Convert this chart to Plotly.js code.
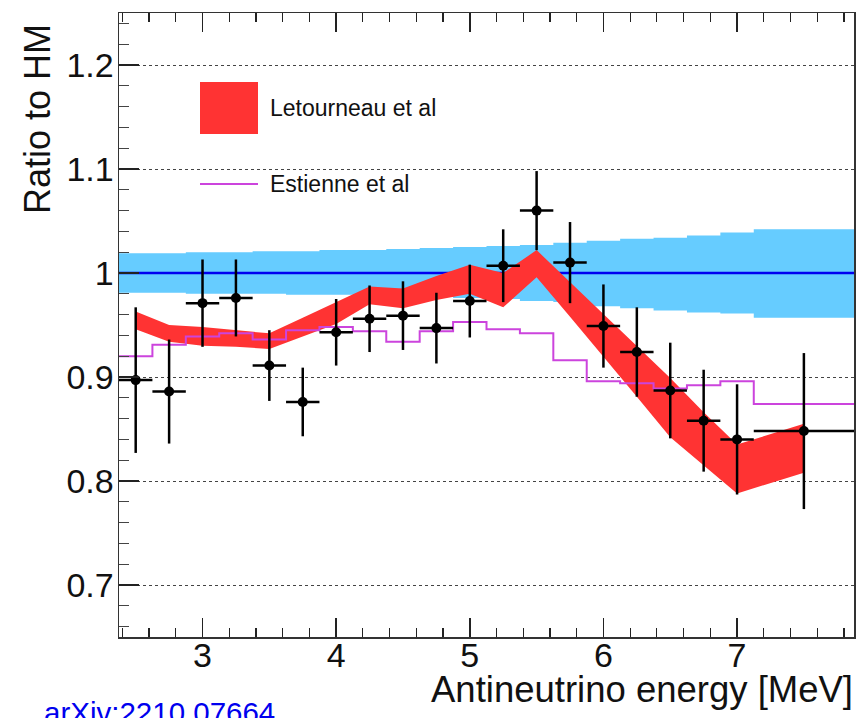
<!DOCTYPE html>
<html>
<head>
<meta charset="utf-8">
<script src="https://cdn.plot.ly/plotly-3.0.1.min.js"></script>
<style>html,body{margin:0;padding:0;background:#fff;}#chart{width:858px;height:718px;}</style>
</head>
<body>
<div id="chart"></div>
<script>
// ---- data ----
const energy = [2.5,2.75,3.0,3.25,3.5,3.75,4.0,4.25,4.5,4.75,5.0,5.25,5.5,5.75,6.0,6.25,6.5,6.75,7.0,7.5];
const energyHalfWidth = [0.125,0.125,0.125,0.125,0.125,0.125,0.125,0.125,0.125,0.125,0.125,0.125,0.125,0.125,0.125,0.125,0.125,0.125,0.125,0.375];
const dataRatio = [0.897,0.886,0.971,0.976,0.911,0.876,0.943,0.956,0.959,0.947,0.973,1.007,1.060,1.010,0.949,0.924,0.887,0.858,0.840,0.848];
const dataErr = [0.070,0.050,0.042,0.037,0.034,0.033,0.032,0.032,0.033,0.034,0.035,0.035,0.038,0.039,0.040,0.043,0.046,0.049,0.053,0.075];

const binEdges = [2.375,2.625,2.875,3.125,3.375,3.625,3.875,4.125,4.375,4.625,4.875,5.125,5.375,5.625,5.875,6.125,6.375,6.625,6.875,7.125,7.875];
const hmRatio = 1.0;
const hmUpper = [1.019,1.019,1.020,1.020,1.021,1.021,1.022,1.022,1.023,1.024,1.025,1.026,1.027,1.029,1.031,1.033,1.034,1.036,1.039,1.042];
const hmLower = [0.981,0.981,0.980,0.980,0.980,0.979,0.979,0.978,0.978,0.977,0.976,0.975,0.973,0.972,0.968,0.966,0.964,0.962,0.961,0.957];

const estienne = [0.920,0.931,0.939,0.942,0.936,0.945,0.948,0.944,0.934,0.944,0.953,0.946,0.942,0.916,0.896,0.894,0.889,0.892,0.896,0.874];

const letUpper = [0.963,0.950,0.948,0.945,0.942,0.957,0.972,0.987,0.985,0.997,1.008,1.000,1.022,0.991,0.961,0.930,0.899,0.866,0.835,0.855];
const letLower = [0.946,0.934,0.930,0.929,0.927,0.939,0.951,0.970,0.966,0.974,0.980,0.967,0.996,0.958,0.920,0.881,0.842,0.815,0.788,0.808];

const legendLabels = ["Letourneau et al","Estienne et al"];
const xTitle = "Antineutrino energy [MeV]";
const yTitle = "Ratio to HM";
const refText = "arXiv:2210.07664";

// ---- helpers ----
const stepY = arr => arr.concat([arr[arr.length-1]]);

const RED = '#ff3333', BAND = '#66ccff', MAG = '#cc44dd';

const traces = [
  {x: binEdges, y: stepY(hmLower), mode:'lines', line:{shape:'hv', width:0, color:BAND}, hoverinfo:'skip', showlegend:false},
  {x: binEdges, y: stepY(hmUpper), mode:'lines', line:{shape:'hv', width:0, color:BAND}, fill:'tonexty', fillcolor:BAND, hoverinfo:'skip', showlegend:false},
  {x: [binEdges[0], binEdges[binEdges.length-1]], y:[hmRatio, hmRatio], mode:'lines', line:{color:'#0000f0', width:2.5}, showlegend:false},
  {x: energy, y: letLower, mode:'lines', line:{width:0, color:RED}, hoverinfo:'skip', showlegend:false},
  {x: energy, y: letUpper, mode:'lines', line:{width:0, color:RED}, fill:'tonexty', fillcolor:RED, name:legendLabels[0], showlegend:false},
  {x: binEdges, y: stepY(estienne), mode:'lines', line:{shape:'hv', width:2, color:MAG}, name:legendLabels[1], showlegend:false},
  {x: energy, y: dataRatio, mode:'markers', marker:{size:10, color:'#000'},
   error_y:{type:'data', array:dataErr, visible:true, color:'#000', thickness:2.5, width:0},
   error_x:{type:'data', array:energyHalfWidth, visible:true, color:'#000', thickness:2.5, width:0},
   showlegend:false}
];

const FONT = 'Liberation Sans, Arial, Helvetica, sans-serif';
const W = 858, H = 718, L = 119, R = 4, T = 13, B = 81;
const pw = W - L - R, ph = H - T - B;
const px = v => (v - L) / pw;          // pixel -> paper x
const py = v => (H - B - v) / ph;      // pixel -> paper y

const layout = {
  width: W, height: H,
  margin: {l:L, r:R, t:T, b:B, pad:0},
  paper_bgcolor:'#fff', plot_bgcolor:'#fff',
  showlegend:false,
  xaxis: {
    range:[2.375, 7.875], tickvals:[3,4,5,6,7], ticks:'inside', ticklen:19, tickwidth:1.5, tickcolor:'#222',
    minor:{dtick:0.2, tick0:0, ticks:'inside', ticklen:9, tickwidth:1.2, tickcolor:'#222', showgrid:false},
    showline:true, linecolor:'#333', linewidth:1.5, mirror:'ticks', showgrid:false, zeroline:false,
    ticklabelstandoff:-12,
    tickfont:{family:FONT, size:34, color:'#111'}
  },
  yaxis: {
    range:[0.65, 1.25], tickvals:[0.7,0.8,0.9,1.0,1.1,1.2], ticktext:['0.7','0.8','0.9','1','1.1','1.2'],
    ticks:'inside', ticklen:20, tickwidth:1.5, tickcolor:'#222',
    minor:{dtick:0.02, tick0:0, ticks:'inside', ticklen:10, tickwidth:1.2, tickcolor:'#444', showgrid:false},
    showline:true, linecolor:'#333', linewidth:1.5, mirror:true,
    showgrid:true, gridcolor:'#444', gridwidth:1, griddash:'dot', zeroline:false,
    ticklabelstandoff:-3,
    tickfont:{family:FONT, size:34, color:'#111'}
  },
  shapes: [
    {type:'rect', xref:'paper', yref:'paper', x0:px(200), x1:px(258), y0:py(134), y1:py(82), fillcolor:RED, line:{width:0}},
    {type:'line', xref:'paper', yref:'paper', x0:px(200), x1:px(258), y0:py(184), y1:py(184), line:{color:MAG, width:2}}
  ],
  annotations: [
    {text:legendLabels[0], xref:'paper', yref:'paper', x:px(268), y:py(108), xanchor:'left', yanchor:'middle', showarrow:false, font:{family:FONT, size:23, color:'#111'}},
    {text:legendLabels[1], xref:'paper', yref:'paper', x:px(268), y:py(184), xanchor:'left', yanchor:'middle', showarrow:false, font:{family:FONT, size:23, color:'#111'}},
    {text:yTitle, xref:'paper', yref:'paper', x:px(38), y:py(22), xanchor:'center', yanchor:'top', textangle:-90, showarrow:false, font:{family:FONT, size:36, color:'#111'}},
    {text:xTitle, xref:'paper', yref:'paper', x:px(855), y:py(667), xanchor:'right', yanchor:'top', showarrow:false, font:{family:FONT, size:36.5, color:'#111'}},
    {text:refText, xref:'paper', yref:'paper', x:px(42), y:py(694), xanchor:'left', yanchor:'top', showarrow:false, font:{family:FONT, size:29.5, color:'#0000ee'}}
  ]
};

Plotly.newPlot('chart', traces, layout, {displayModeBar:false, staticPlot:true});
</script>
</body>
</html>
